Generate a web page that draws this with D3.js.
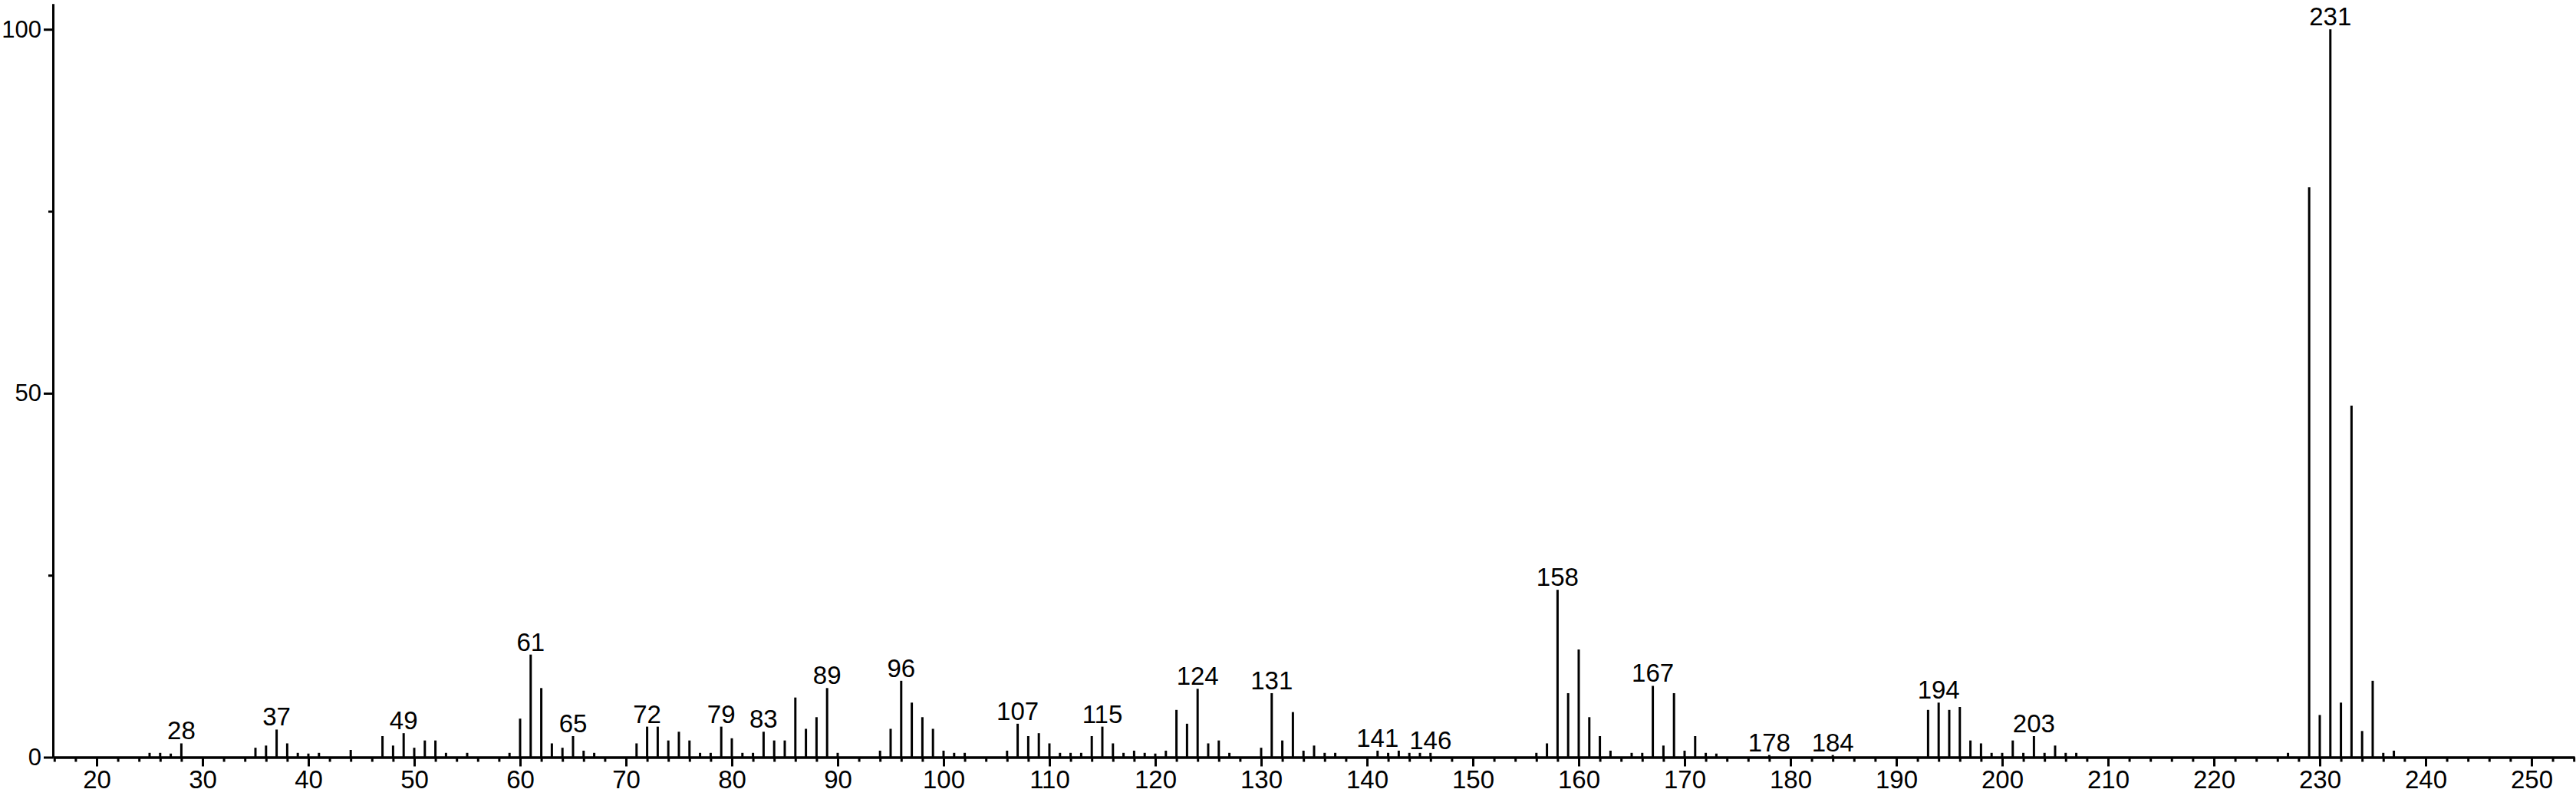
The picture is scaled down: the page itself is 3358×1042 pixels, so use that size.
<!DOCTYPE html>
<html>
<head>
<meta charset="utf-8">
<script src="https://cdn.jsdelivr.net/npm/d3@7"></script>
<style>
  body { margin: 0; background: #fff; }
  svg { display: block; }
  text { font-family: "Liberation Sans", Arial, Helvetica, sans-serif; }
</style>
</head>
<body>
<div id="chart"></div>
<script>
const mz = [25, 26, 27, 28, 35, 36, 37, 38, 39, 40, 41, 44, 47, 48, 49, 50, 51, 52, 53, 55, 59,
  60, 61, 62, 63, 64, 65, 66, 67, 71, 72, 73, 74, 75, 76, 77, 78, 79, 80, 81, 82, 83, 84, 85,
  86, 87, 88, 89, 90, 94, 95, 96, 97, 98, 99, 100, 101, 102, 106, 107, 108, 109, 110, 111, 112,
  113, 114, 115, 116, 117, 118, 119, 120, 121, 122, 123, 124, 125, 126, 127, 130, 131, 132, 133,
  134, 135, 136, 137, 141, 142, 143, 144, 145, 146, 156, 157, 158, 159, 160, 161, 162, 163, 165,
  166, 167, 168, 169, 170, 171, 172, 173, 178, 184, 193, 194, 195, 196, 197, 198, 199, 200, 201,
  202, 203, 204, 205, 206, 207, 227, 229, 230, 231, 232, 233, 234, 235, 236, 237]
const intensity = [0.6, 0.6, 0.5, 1.9, 1.3, 1.6, 3.8, 1.9, 0.6, 0.5, 0.6, 1.0, 2.9, 1.6, 3.3, 1.3, 2.3, 2.3, 0.6, 0.6, 0.6,
  5.3, 14.1, 9.5, 1.9, 1.3, 2.9, 0.9, 0.6, 1.9, 4.2, 4.2, 2.3, 3.5, 2.3, 0.6, 0.6, 4.2, 2.6, 0.6, 0.6, 3.5, 2.3, 2.3,
  8.2, 3.9, 5.5, 9.5, 0.6, 0.9, 3.9, 10.5, 7.5, 5.5, 3.9, 0.9, 0.6, 0.6, 0.9, 4.6, 2.9, 3.3, 1.9, 0.6, 0.6,
  0.6, 2.9, 4.2, 1.9, 0.6, 0.9, 0.6, 0.5, 0.9, 6.5, 4.6, 9.4, 1.9, 2.3, 0.6, 1.3, 8.8, 2.3, 6.2,
  0.9, 1.6, 0.6, 0.6, 0.9, 0.6, 0.9, 0.6, 0.6, 0.6, 0.6, 1.9, 23.0, 8.8, 14.8, 5.5, 2.9, 0.9, 0.6,
  0.6, 9.8, 1.6, 8.8, 0.9, 2.9, 0.6, 0.5, 0.3, 0.3, 6.5, 7.5, 6.5, 6.9, 2.3, 1.9, 0.6, 0.6, 2.3,
  0.6, 2.9, 0.6, 1.6, 0.6, 0.6, 0.6, 78.3, 5.8, 100, 7.5, 48.3, 3.6, 10.5, 0.6, 0.9]
const labeled = [28, 37, 49, 61, 65, 72, 79, 83, 89, 96, 107, 115, 124, 131, 141, 146, 158, 167, 178, 184, 194, 203, 231]
const xMajorTicks = d3.range(20, 251, 10)
const xMinorTicks = d3.range(16, 255, 2).filter(v => v % 10 !== 0)
const yMajorTicks = [0, 50, 100]
const yMinorTicks = [25, 75]

const width = 3358, height = 1042
const peaks = mz.map((m, i) => ({ mz: m, value: intensity[i] }))

const svg = d3.select('#chart')
  .append('svg')
  .attr('width', width)
  .attr('height', height)

const x = d3.scaleLinear().domain([15.87, 254.06]).range([69, 3356])
const y = d3.scaleLinear().domain([0, 103.5]).range([987.5, 5])

function styleAxis(g, size = 34) {
  g.selectAll('path, line').attr('stroke', '#000').attr('stroke-width', 3)
  g.selectAll('text').attr('fill', '#000').attr('font-size', size)
}

svg.append('g')
  .attr('transform', `translate(0,${y(0)})`)
  .call(d3.axisBottom(x).tickValues(xMinorTicks).tickSize(6).tickSizeOuter(0).tickFormat(''))
  .call(styleAxis)

svg.append('g')
  .attr('transform', `translate(0,${y(0)})`)
  .call(d3.axisBottom(x).tickValues(xMajorTicks).tickSize(12).tickSizeOuter(0).tickPadding(3))
  .call(styleAxis, 33)
  .call(g => g.selectAll('text').attr('dy', '0.76em'))

svg.append('g')
  .attr('transform', `translate(${x.range()[0]},0)`)
  .call(d3.axisLeft(y).tickValues(yMinorTicks).tickSize(6).tickSizeOuter(0).tickFormat(''))
  .call(styleAxis)

svg.append('g')
  .attr('transform', `translate(${x.range()[0]},0)`)
  .call(d3.axisLeft(y).tickValues(yMajorTicks).tickSize(12).tickSizeOuter(0).tickPadding(3))
  .call(styleAxis, 31)

svg.append('g')
  .selectAll('line')
  .data(peaks)
  .enter().append('line')
  .attr('x1', d => x(d.mz))
  .attr('x2', d => x(d.mz))
  .attr('y1', y(0))
  .attr('y2', d => y(d.value))
  .attr('stroke', '#000')
  .attr('stroke-width', 3)

svg.append('g')
  .selectAll('text')
  .data(peaks.filter(d => labeled.includes(d.mz)))
  .enter().append('text')
  .attr('x', d => x(d.mz))
  .attr('y', d => y(d.value) - 5)
  .attr('text-anchor', 'middle')
  .attr('font-size', 33)
  .attr('fill', '#000')
  .text(d => d.mz)
</script>
</body>
</html>
